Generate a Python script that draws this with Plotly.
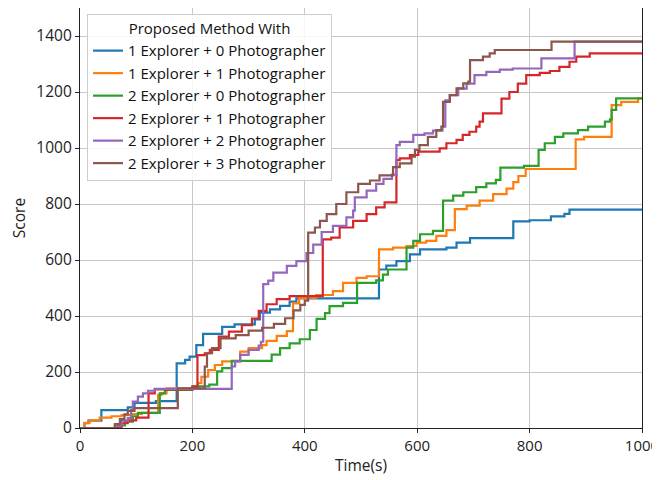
import plotly.graph_objects as go

names = ["1 Explorer + 0 Photographer", "1 Explorer + 1 Photographer",
         "2 Explorer + 0 Photographer", "2 Explorer + 1 Photographer",
         "2 Explorer + 2 Photographer", "2 Explorer + 3 Photographer"]

blue_t = [0, 8, 15, 38, 85, 97, 135, 172, 187, 195, 207, 219, 253, 275, 311, 320, 338, 356, 373, 385,
          532, 545, 563, 587, 605, 652, 670, 694, 771, 800, 838, 862, 871, 1000]
blue_s = [0, 17, 26, 64, 74, 90, 96, 231, 243, 255, 296, 336, 361, 370, 388, 412, 424, 436, 451, 463,
          566, 580, 596, 620, 638, 644, 662, 678, 738, 742, 756, 765, 780, 780]

orange_t = [0, 8, 17, 35, 56, 74, 90, 110, 139, 145, 154, 205, 210, 216, 228, 240, 253, 285, 300, 324,
            332, 350, 368, 379, 390, 420, 450, 468, 492, 510, 532, 557, 581, 599, 616, 634, 652, 667,
            688, 711, 735, 759, 771, 780, 793, 882, 897, 946, 963, 993, 1000]
orange_s = [0, 18, 27, 37, 42, 46, 50, 54, 118, 124, 142, 148, 160, 183, 207, 225, 238, 273, 285, 296,
            311, 329, 346, 445, 465, 475, 489, 518, 536, 542, 638, 644, 650, 662, 668, 686, 707, 782,
            794, 812, 835, 855, 878, 900, 925, 1031, 1040, 1153, 1165, 1177, 1180]

green_t = [0, 68, 80, 94, 103, 142, 151, 200, 230, 244, 253, 270, 341, 356, 373, 391, 409, 421, 436, 444,
           468, 493, 527, 539, 548, 581, 593, 605, 628, 646, 664, 682, 705, 723, 740, 748, 790, 816, 827,
           845, 860, 886, 904, 934, 943, 946, 954, 1000]
green_s = [0, 9, 23, 42, 54, 124, 136, 149, 155, 202, 214, 240, 262, 285, 302, 317, 350, 390, 410, 435,
           447, 518, 527, 548, 566, 644, 668, 692, 704, 812, 830, 842, 860, 874, 886, 930, 936, 993, 1017,
           1040, 1052, 1064, 1076, 1094, 1102, 1136, 1177, 1177]

red_t = [0, 74, 85, 100, 122, 133, 200, 209, 222, 231, 247, 265, 288, 306, 318, 332, 350, 373, 432, 447,
         462, 486, 510, 527, 542, 563, 569, 587, 602, 640, 652, 670, 681, 693, 705, 711, 717, 750, 764,
         779, 794, 818, 836, 853, 871, 883, 907, 1000]
red_s = [0, 17, 27, 37, 124, 138, 148, 260, 267, 279, 326, 344, 367, 391, 418, 442, 460, 471, 674, 680,
         716, 740, 764, 788, 806, 957, 963, 975, 987, 999, 1017, 1029, 1047, 1058, 1076, 1094, 1124, 1176,
         1200, 1230, 1260, 1268, 1275, 1290, 1308, 1326, 1338, 1338]

purple_t = [0, 62, 74, 85, 91, 94, 103, 112, 121, 133, 270, 276, 285, 300, 318, 322, 326, 335, 344, 368,
            385, 403, 415, 430, 450, 474, 486, 489, 510, 527, 540, 555, 563, 569, 593, 613, 628, 645, 650,
            658, 673, 688, 702, 723, 747, 770, 821, 880, 1000]
purple_s = [0, 8, 26, 35, 64, 94, 112, 124, 133, 140, 220, 238, 261, 279, 294, 308, 514, 526, 555, 579,
            596, 625, 655, 700, 722, 752, 776, 824, 848, 872, 890, 905, 1010, 1022, 1047, 1052, 1062, 1076,
            1170, 1189, 1212, 1230, 1260, 1272, 1280, 1284, 1320, 1380, 1380]

brown_t = [0, 62, 71, 79, 85, 97, 174, 222, 226, 235, 250, 277, 300, 324, 345, 365, 380, 392, 400, 406,
           418, 427, 439, 456, 474, 495, 516, 533, 557, 569, 590, 596, 604, 619, 634, 643, 646, 658, 670,
           682, 691, 694, 717, 729, 738, 839, 1000]
brown_s = [0, 14, 32, 49, 61, 71, 142, 219, 267, 285, 320, 332, 348, 358, 372, 392, 420, 440, 455, 698,
           716, 740, 764, 800, 842, 872, 884, 902, 932, 945, 969, 993, 1010, 1040, 1064, 1076, 1165, 1189,
           1213, 1231, 1237, 1314, 1326, 1338, 1350, 1380, 1380]

x_ticks = [0, 200, 400, 600, 800, 1000]
y_ticks = [0, 200, 400, 600, 800, 1000, 1200, 1400]

colors = ["#1f77b4", "#ff7f0e", "#2ca02c", "#d62728", "#9467bd", "#8c564b"]
series = [(blue_t, blue_s), (orange_t, orange_s), (green_t, green_s),
          (red_t, red_s), (purple_t, purple_s), (brown_t, brown_s)]

FONT = "Open Sans, Lato, sans-serif"

fig = go.Figure()
for name, col, (t, s) in zip(names, colors, series):
    fig.add_trace(go.Scatter(x=t, y=s, mode="lines", name=name,
                             line=dict(color=col, width=2.2, shape="hv")))

axis_common = dict(showline=True, linecolor="#222", linewidth=1.2, mirror=True,
                   showgrid=True, gridcolor="#c8c8c8", gridwidth=1,
                   ticks="outside", ticklen=4, tickcolor="#222", zeroline=False,
                   automargin=False)

fig.update_xaxes(range=[0, 1000], tickvals=x_ticks, ticktext=[str(v) for v in x_ticks],
                 tickfont=dict(family=FONT, size=15, color="#222"),
                 title=dict(text="Time(s)", font=dict(family=FONT, size=15.5, color="#222"), standoff=6),
                 **axis_common)
fig.update_yaxes(range=[0, 1500], tickvals=y_ticks, ticktext=[str(v) for v in y_ticks],
                 tickfont=dict(family=FONT, size=15.5, color="#222"),
                 title=dict(text="Score", font=dict(family=FONT, size=15.5, color="#222"), standoff=17),
                 **axis_common)

fig.update_layout(
    width=660, height=480,
    margin=dict(l=72, r=26, t=0, b=60),
    plot_bgcolor="white", paper_bgcolor="white",
    font=dict(family=FONT, size=15, color="#111"),
    legend=dict(x=0.0125, y=0.986, xanchor="left", yanchor="top",
                bgcolor="rgba(255,255,255,0.85)", bordercolor="#cccccc", borderwidth=1,
                title=dict(text="Proposed Method With", side="top center",
                           font=dict(family=FONT, size=15, color="#111")),
                font=dict(family=FONT, size=15, color="#111"),
                tracegroupgap=0, itemwidth=30),
    showlegend=True,
)

fig.write_html("out.html")
